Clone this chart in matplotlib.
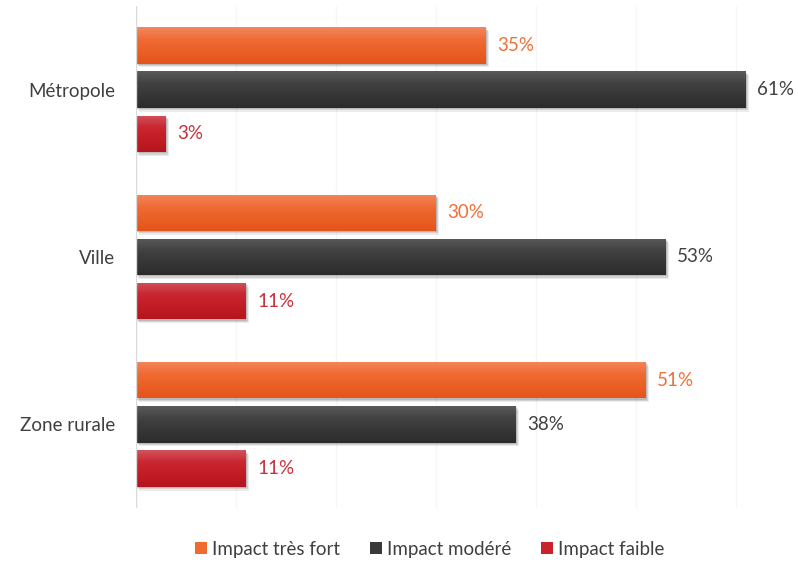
import numpy as np
import matplotlib.pyplot as plt
from matplotlib.colors import LinearSegmentedColormap
from matplotlib.patches import Rectangle

# --- data ---
zones = ["Métropole", "Ville", "Zone rurale"]
series_names = ["Impact très fort", "Impact modéré", "Impact faible"]
tres_fort = [35, 30, 51]
modere = [61, 53, 38]
faible = [3, 11, 11]

# --- style ---
plt.rcParams['font.family'] = ['Lato', 'DejaVu Sans']

# top -> bottom colour ramps for each series
ramps = [
    ["#F3875E", "#EF6C34", "#EB5F25", "#E4541C"],
    ["#5A5A5A", "#414141", "#363636", "#2C2C2C"],
    ["#D2515B", "#C92630", "#C21C25", "#B5151D"],
]
solid = ["#EE6A2E", "#3A3A3A", "#C8222B"]
label_colors = ["#F07038", "#404040", "#C9303A"]

offsets = [-0.2645, 0.0, 0.2645]
bar_h = 0.218
fs = 13.5

fig = plt.figure(figsize=(7.98, 5.62), dpi=100)
ax = fig.add_axes([136 / 798, 1 - 508 / 562, 660 / 798, 502 / 562])

ax.set_xlim(0, 66)
ax.set_ylim(2.5, -0.5)

for gx in range(10, 70, 10):
    ax.axvline(gx, color="#F6F6F6", lw=1, zorder=0)
ax.axvline(0, color="#D9D9D9", lw=1, zorder=5)

y = np.arange(len(zones))
for i, vals in enumerate([tres_fort, modere, faible]):
    cmap = LinearSegmentedColormap.from_list(f"ramp{i}", ramps[i])
    grad = np.linspace(0, 1, 64).reshape(-1, 1)
    bars = ax.barh(y + offsets[i], vals, height=bar_h, color=solid[i],
                   zorder=3, label=series_names[i])
    for bar, v in zip(bars, vals):
        x0, y0 = bar.get_x(), bar.get_y()
        w, h = bar.get_width(), bar.get_height()
        # soft drop shadow down and to the right
        for k, a in [(0.55, 0.08), (0.35, 0.10), (0.18, 0.12)]:
            sh = Rectangle((x0 + k * 0.5, y0 + k * 0.04), w, h,
                           color="#000000", alpha=a, lw=0, zorder=2)
            ax.add_patch(sh)
        im = ax.imshow(grad, cmap=cmap, aspect="auto", origin="upper",
                       extent=(x0, x0 + w, y0 + h, y0), zorder=4,
                       interpolation="bilinear")
        im.set_clip_path(bar)
        ax.annotate(f"{v}%", (x0 + w, y0 + h / 2), xytext=(8, 0),
                    textcoords="offset points", va="center", ha="left",
                    fontsize=fs, color=label_colors[i])

ax.set_xlim(0, 66)
ax.set_ylim(2.5, -0.5)
ax.set_yticks(y)
ax.set_yticklabels(zones, fontsize=fs, color="#404040")
ax.set_xticks([])
ax.tick_params(axis="y", length=0, pad=15)
for s in ax.spines.values():
    s.set_visible(False)

handles, labels = ax.get_legend_handles_labels()
fig.legend(handles, labels, loc="center", bbox_to_anchor=(430 / 798, 1 - 549 / 562),
           ncol=3, frameon=False, fontsize=fs, handlelength=0.6, handleheight=0.6,
           handletextpad=0.3, columnspacing=1.6, labelcolor="#404040")

fig.savefig("out.png", dpi=100)
